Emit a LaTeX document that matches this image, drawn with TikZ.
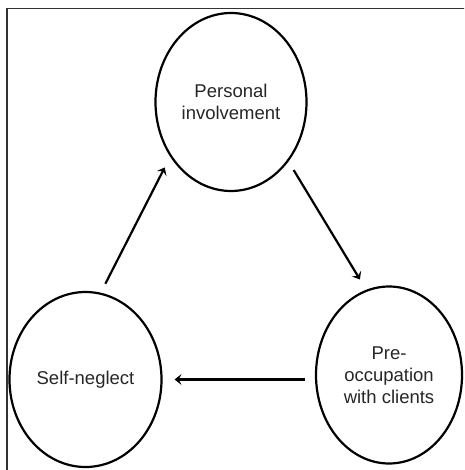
\documentclass[tikz,border=0pt]{standalone}
\usepackage{fontspec}
\setmainfont{Liberation Sans}
\usetikzlibrary{shapes.geometric, arrows.meta}

\begin{document}
\begin{tikzpicture}
      [x = 1pt, y = -1pt,
        stage/.style={ellipse, draw, line width = 2.2pt, align = center,
          text = black!85, font = \fontsize{18.5}{22}\selectfont, inner sep = 0pt},
        arr/.style={line width = 2.2pt, -{Stealth[length=7pt, width=11pt, inset=3pt]},
          shorten < = 10pt, shorten > = 12pt}]
      \clip (0, 0) rectangle (464, 470);
      \draw[black!80, line width = 1.4pt] (7, 8.5) rectangle (480, 480);
      \node[stage, minimum width = 151pt, minimum height = 178pt] (involve) at (231, 102) {Personal\\involvement};
      \node[stage, minimum width = 152pt, minimum height = 175pt] (neglect) at (85.5, 379.5) {Self-neglect};
      \node[stage, minimum width = 146pt, minimum height = 177pt] (preocc) at (389, 375) {Pre-\\occupation\\with clients};
      \draw[arr] (neglect.80) -- (involve.222);
      \draw[arr] (involve.314) -- (preocc.105);
      \draw[arr] (preocc.west |- neglect.east) -- (neglect.east);
    \end{tikzpicture}
\end{document}
